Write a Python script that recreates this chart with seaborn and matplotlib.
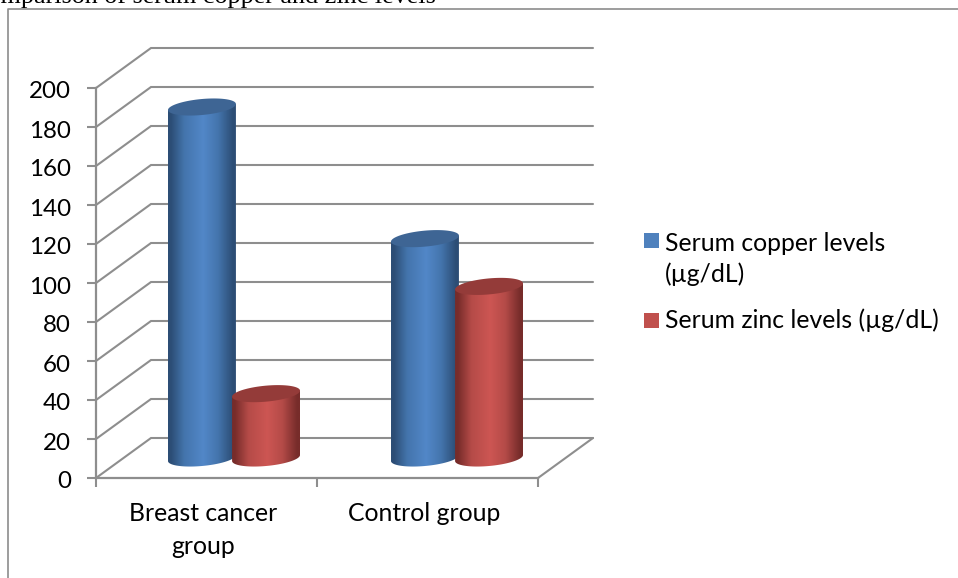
import matplotlib
matplotlib.use("Agg")
import numpy as np
import pandas as pd
import seaborn as sns
import matplotlib.pyplot as plt
from matplotlib.colors import LinearSegmentedColormap
from matplotlib.lines import Line2D
from matplotlib.patches import Polygon, Rectangle
from matplotlib.transforms import ScaledTranslation

groups = ["Breast cancer\ngroup", "Control group"]
copper_values = [180, 112.5]
zinc_values = [33, 88]
series_names = ["Serum copper levels\n(µg/dL)", "Serum zinc levels (µg/dL)"]
series_colors = ["#4F81BD", "#C0504D"]
center_colors = ["#5287C8", "#CD5653"]
middle_colors = ["#4475AD", "#B54B48"]
rim_colors = ["#2C4D75", "#772C2A"]
cap_colors = ["#3E6594", "#943B39"]
y_ticks = list(range(0, 201, 20))
caption = "Comparison of serum copper and zinc levels"

W, H = 958, 578
FONT = "Lato"
GRID = "#8E8E8E"

table = pd.DataFrame({
    "group": groups * 2,
    "value": copper_values + zinc_values,
    "series": [series_names[0]] * 2 + [series_names[1]] * 2,
})

sns.set_theme(style="white", rc={"font.family": FONT})
fig = plt.figure(figsize=(W / 100, H / 100), dpi=100, facecolor="white")
# Front plane of the chart box, in pixels: x 96-538, y 88-478
ax = fig.add_axes([96 / W, 1 - 478 / H, 442 / W, 390 / H])
ax.set_facecolor("none")

sns.barplot(data=table, x="group", y="value", hue="series", hue_order=series_names,
            palette=series_colors, width=0.58, gap=-0.06, dodge=True,
            legend=False, ax=ax, zorder=5)
ax.set_xlim(-0.5, 1.5)
ax.set_ylim(0, 200)

px_x = 2 / 442          # axis units per pixel, horizontally
px_y = 200 / 390        # axis units per pixel, vertically
depth_x, depth_y = 55 * px_x, 40 * px_y   # offset from the front plane to the back wall

# Wall and floor lines of the box
for tick in y_ticks:
    ax.plot([-0.5, -0.5 + depth_x, 1.5 + depth_x], [tick, tick + depth_y, tick + depth_y],
            color=GRID, lw=1.5, clip_on=False, zorder=1, solid_joinstyle="miter")
ax.plot([1.5, 1.5 + depth_x], [0, depth_y], color=GRID, lw=1.5, clip_on=False, zorder=1)

for side in ["top", "right"]:
    ax.spines[side].set_visible(False)
for side in ["left", "bottom"]:
    ax.spines[side].set_color(GRID)
    ax.spines[side].set_linewidth(1.6)

ax.set_yticks(y_ticks)
ax.set_xticks([-0.5, 0.5, 1.5], labels=["", "", ""])
ax.tick_params(axis="both", which="major", length=6.5, width=1.5, color=GRID, left=True, bottom=True)
ax.tick_params(axis="y", labelsize=17.4, pad=11.5, labelcolor="black")
ax.set_xlabel("")
ax.set_ylabel("")

# Lower the value labels slightly so the digits sit level with their ticks
label_shift = ScaledTranslation(0, -2 / 100, fig.dpi_scale_trans)
for tick_label in ax.get_yticklabels():
    tick_label.set_transform(tick_label.get_transform() + label_shift)


def fx(px):
    return px / W


def fy(px):
    return 1 - px / H


for label, xpos in zip(groups, [203.5, 424.5]):
    fig.text(fx(xpos), fy(502), label, ha="center", va="top", fontsize=17.8, color="black",
             linespacing=1.5, family=FONT)


# Shading across each cylinder, dark at the rims and brightest just past the middle
def shading(center, middle, rim):
    stops = [(0, rim), (0.04, rim), (0.24, middle), (0.52, center), (0.74, middle), (0.96, rim), (1, rim)]
    return LinearSegmentedColormap.from_list("cyl", stops)


bar_patches = [p for p in ax.patches if isinstance(p, Rectangle) and p.get_height() > 0]
n_groups = len(groups)
cap_half = 8 * px_y
rise = 3 * px_y
angles = np.linspace(0, 2 * np.pi, 121)
lower = np.linspace(np.pi, 2 * np.pi, 61)

for i, patch in enumerate(bar_patches):
    s = i // n_groups
    g = i % n_groups
    x0 = patch.get_x() + depth_x / 2 + g * 2 * px_x
    w = patch.get_width()
    xc = x0 + w / 2
    base = depth_y / 2
    top = base + patch.get_height()
    patch.set_visible(False)

    # Body outline: straight sides closed by the lower half of the tilted end ellipse
    xs = xc + w / 2 * np.cos(lower)
    ys = base + cap_half * np.sin(lower) + rise * np.cos(lower)
    body = np.column_stack([
        np.r_[xs, x0 + w, x0],
        np.r_[ys, top + rise, top - rise],
    ])
    outline = Polygon(body, closed=True, transform=ax.transData, facecolor="none", edgecolor="none")
    ax.add_patch(outline)
    z = 5 + s + g
    gradient = np.linspace(0, 1, 128).reshape(1, -1)
    image = ax.imshow(gradient, extent=[x0, x0 + w, base - 2 * cap_half, top + 2 * cap_half], aspect="auto",
                      cmap=shading(center_colors[s], middle_colors[s], rim_colors[s]), zorder=z,
                      interpolation="bilinear")
    image.set_clip_path(outline)

    # End cap, sloping up towards the right
    cap = np.column_stack([
        xc + w / 2 * np.cos(angles),
        top + cap_half * np.sin(angles) + rise * np.cos(angles),
    ])
    ax.add_patch(Polygon(cap, closed=True, facecolor=cap_colors[s], edgecolor="none",
                         zorder=z + 0.01, clip_on=False))

ax.set_xlim(-0.5, 1.5)
ax.set_ylim(0, 200)

# Legend swatches and labels placed in figure pixels
for name, color, top_px, text_px in zip(series_names, series_colors, [233, 313], [232, 308]):
    fig.add_artist(Rectangle((fx(644), fy(top_px + 15)), 15 / W, 15 / H, transform=fig.transFigure,
                             facecolor=color, edgecolor="none"))
    fig.text(fx(665), fy(text_px), name, ha="left", va="top", fontsize=17.8, color="black",
             linespacing=1.4, family=FONT)

# Outer frame and the line of text running above it
fig.add_artist(Line2D([fx(8), fx(8), fx(958)], [fy(578), fy(9), fy(9)], color="#8C8C8C", lw=1.2))
fig.text(fx(-30.4), fy(3), caption, ha="left", va="baseline", fontsize=18.8, color="black",
         family="Liberation Serif")

fig.savefig("out.png", dpi=100, facecolor="white")
